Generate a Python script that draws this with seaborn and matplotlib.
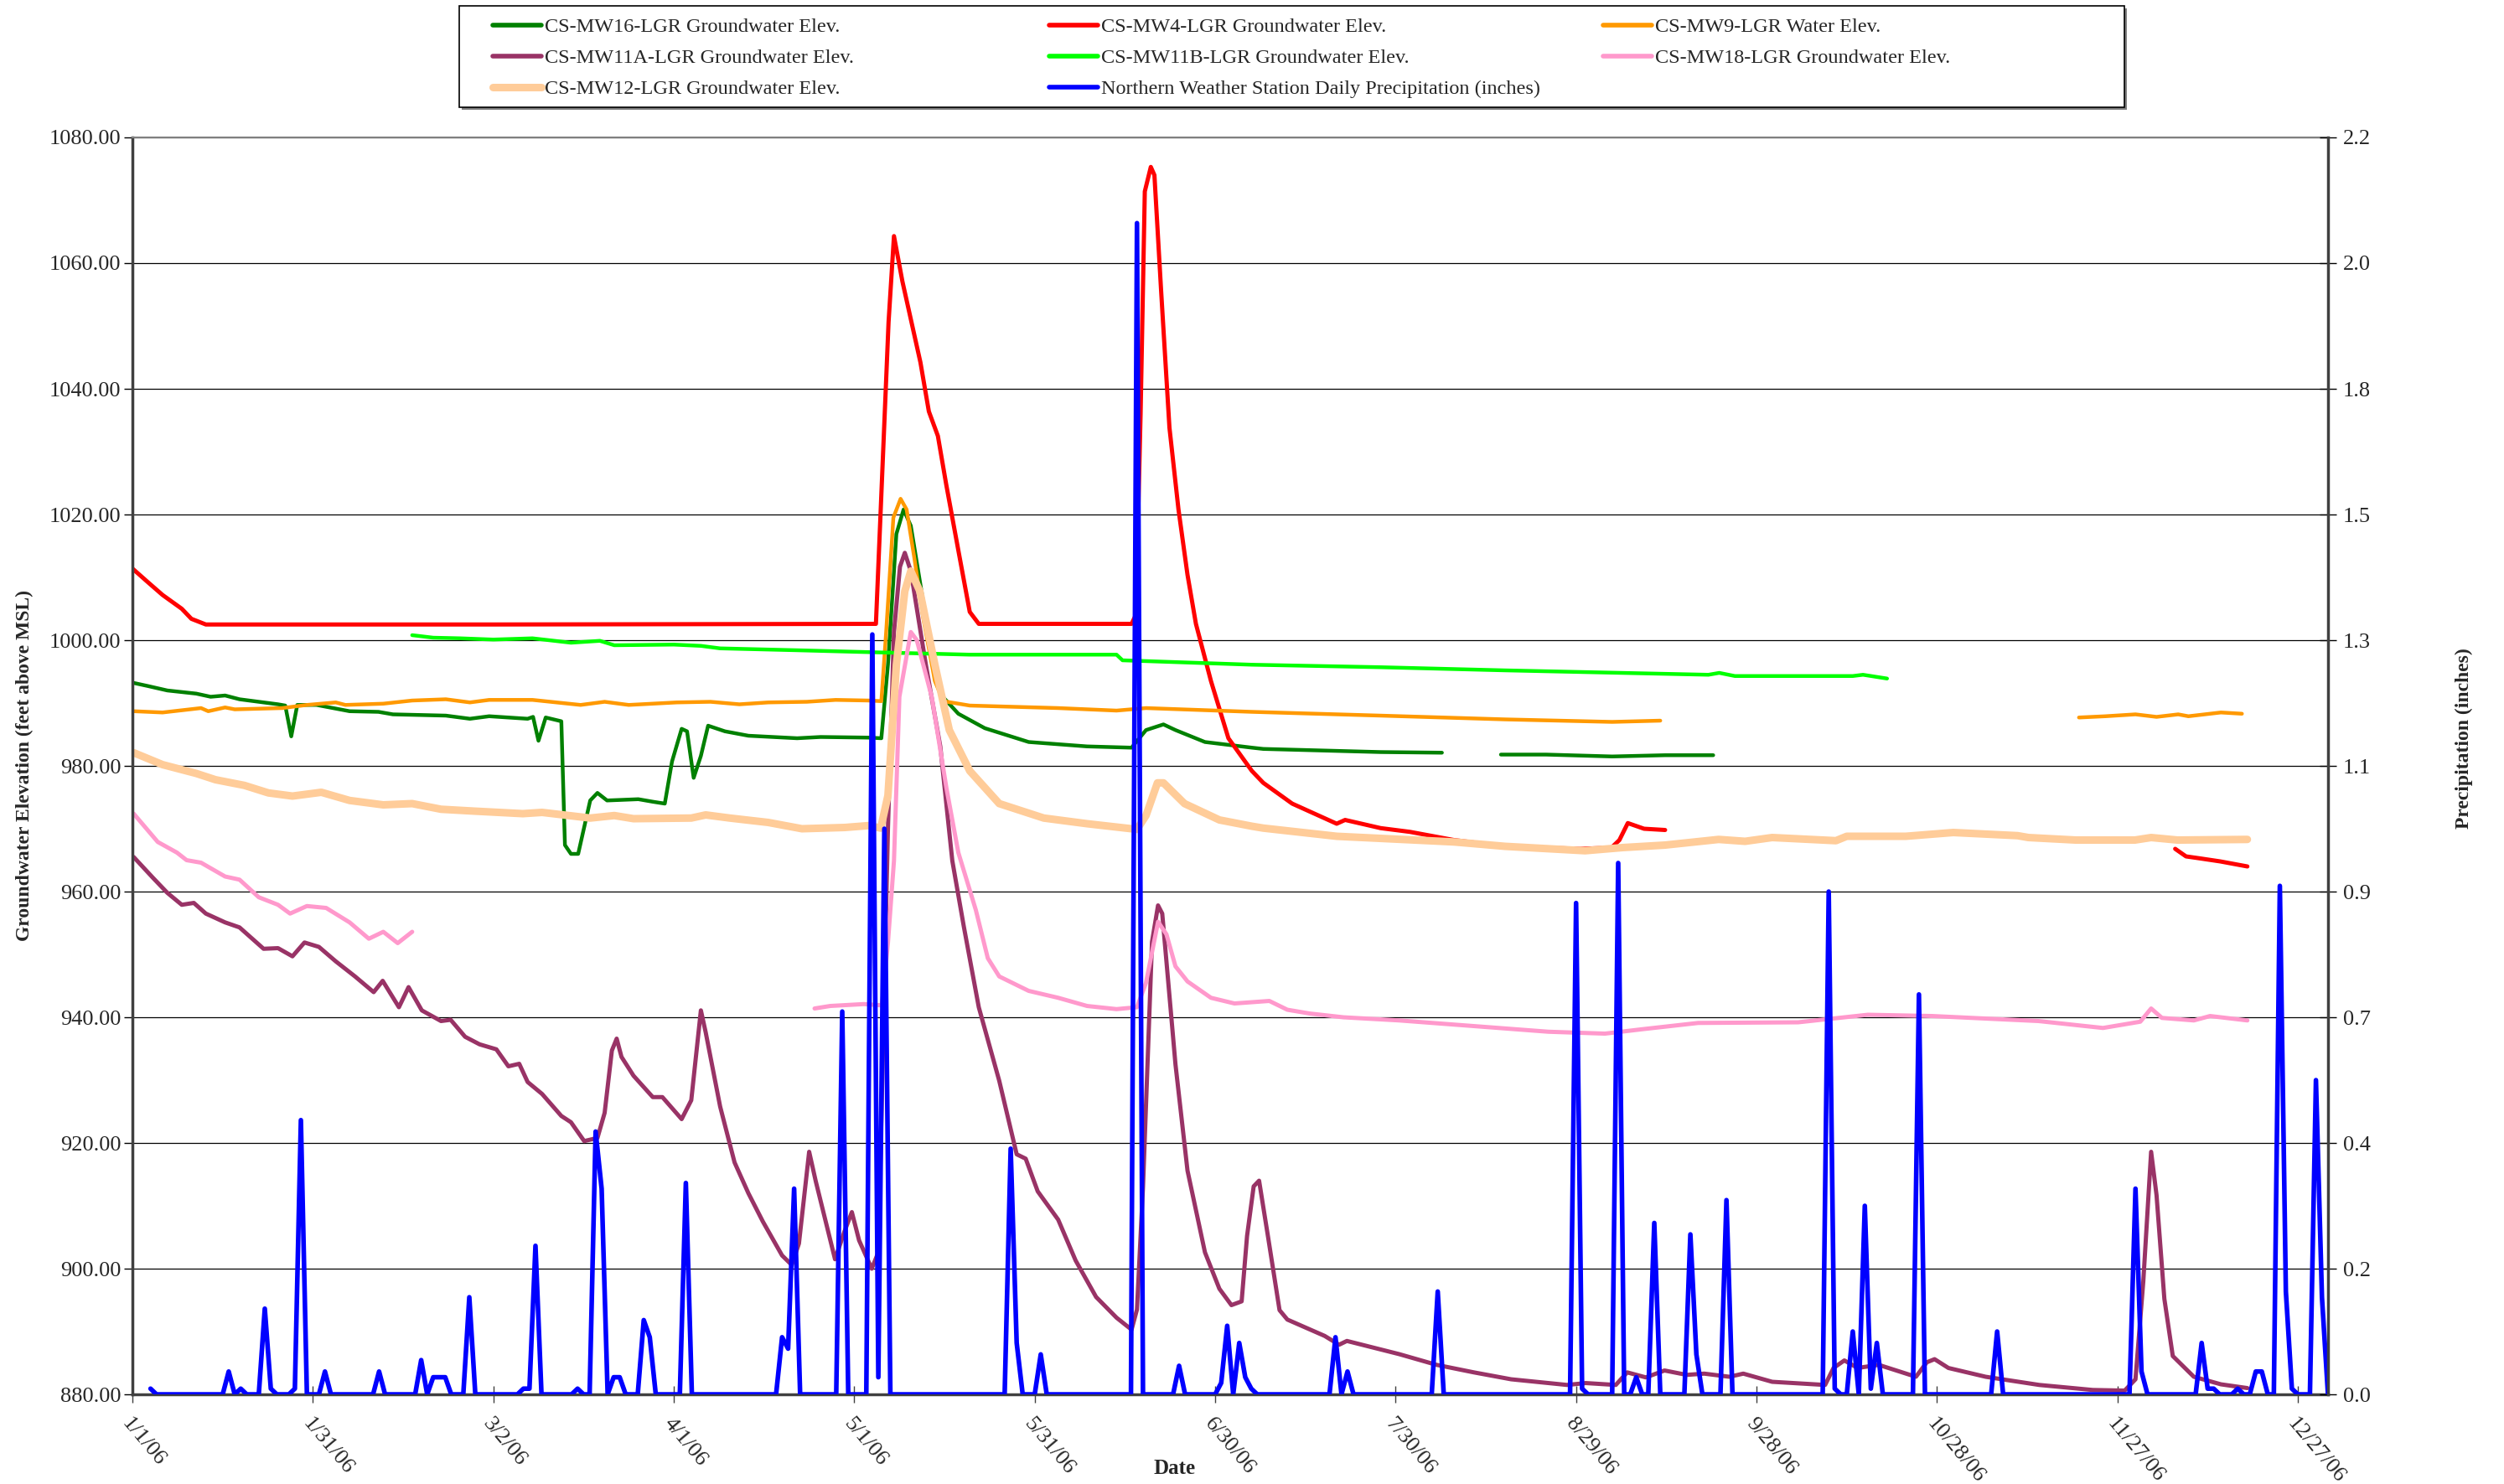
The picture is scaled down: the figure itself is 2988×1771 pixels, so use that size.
import numpy as np
import pandas as pd
import matplotlib
matplotlib.use("Agg")
import matplotlib.pyplot as plt
import matplotlib.ticker as mticker
import matplotlib.transforms as mtransforms
from matplotlib.lines import Line2D
from matplotlib.patches import Rectangle
import seaborn as sns

start = pd.Timestamp("2006-01-01")

# days are counted from 1/1/06, nan marks a gap in the record
mw16_day = [0.2, 2.6, 5.8, 10.6, 13, 15.4, 17.8, 24.2, 25.4, 26.4,
            27.4, 30.6, 36.1, 40.9, 43.3, 52.1, 56.1, 59.3, 65.7, 66.6,
            67.5, 68.7, 71.3, 71.9, 72.9, 74.1, 76.1, 77.3, 78.9, 84.1,
            86.5, 88.5, 89.7, 91.3, 92.2, 93.3, 94.5, 95.7, 98.5, 102.4,
            110.5, 114.4, 122.4, 124.5, 125.6, 127, 128.2, 129.4, 131.4, 133.4,
            134.8, 137.3, 141.7, 149, 158.7, 166.1, 168.5, 171.4, 173.4, 178.3,
            186.1, 188, 207.5, 217.7, np.nan,
            227.5, 235, 246, 254.8, 262.8]
mw16_val = [993.2, 992.7, 992.0, 991.5, 991.0, 991.2, 990.6, 989.8, 989.6, 984.7,
            989.7, 989.7, 988.7, 988.6, 988.2, 988.0, 987.5, 987.9, 987.5, 987.8,
            984.0, 987.7, 987.1, 967.4, 966.0, 966.0, 974.5, 975.7, 974.5, 974.7,
            974.3, 974.0, 980.7, 985.9, 985.5, 978.1, 981.6, 986.4, 985.5, 984.8,
            984.4, 984.6, 984.5, 984.4, 996.1, 1016.9, 1020.8, 1018.2, 1006.5, 996.1,
            990.9, 988.3, 986.0, 983.8, 983.1, 982.9, 985.7, 986.6, 985.7, 983.8,
            982.9, 982.7, 982.2, 982.1, np.nan,
            981.8, 981.8, 981.5, 981.7, 981.7]

mw4_day = [0, 2.6, 5, 8.2, 9.8, 12.2, 60, 123.6, 124.8, 125.7,
           126.6, 128, 131, 132.4, 133.9, 135.3, 137.3, 139.2, 140.7, 166.1,
           166.8, 167.6, 168.3, 169.3, 169.9, 171, 172.4, 173.9, 175.4, 176.8,
           179.3, 182.2, 186.1, 188, 192.8, 200.2, 201.6, 207.5, 212.4, 219.7,
           228.2, 240.7, 245.9, 247.2, 248.6, 251.3, 254.8, np.nan,
           339.6, 341.4, 343.6, 347.1, 351.6]
mw4_val = [1011.4, 1009.2, 1007.2, 1005.0, 1003.4, 1002.5, 1002.5, 1002.6, 1030.0, 1050.6,
           1064.3, 1057.1, 1044.2, 1036.4, 1032.5, 1024.7, 1014.3, 1004.5, 1002.6, 1002.6,
           1004.0, 1036.0, 1071.4, 1075.3, 1074.0, 1055.8, 1033.8, 1020.8, 1010.4, 1002.6,
           993.5, 984.4, 979.2, 977.3, 974.0, 970.8, 971.4, 970.1, 969.5, 968.2,
           967.2, 966.8, 967.0, 968.2, 970.9, 970.0, 969.8, np.nan,
           966.8, 965.6, 965.3, 964.8, 964.0]

mw9_day = [0.2, 5, 11.4, 12.6, 15.4, 17, 24.9, 29, 33.8, 35.4,
           41.7, 46.5, 52.1, 56.1, 59.3, 66.5, 74.5, 78.5, 82.5, 90.5,
           96.1, 100.9, 105.7, 112.1, 116.9, 122.4, 124.5, 125.3, 126.5, 127.7,
           128.7, 130, 131.4, 133.4, 134.8, 139.2, 153.9, 163.6, 168.5, 186.1,
           207.5, 228.2, 246, 254, np.nan,
           323.6, 328, 333, 336.5, 340.1, 341.8, 347.2, 350.7]
mw9_val = [988.7, 988.5, 989.2, 988.7, 989.3, 989.0, 989.2, 989.7, 990.1, 989.7,
           989.9, 990.4, 990.6, 990.1, 990.5, 990.5, 989.7, 990.2, 989.7, 990.1,
           990.2, 989.8, 990.1, 990.2, 990.5, 990.4, 990.3, 1001.3, 1019.5, 1022.5,
           1020.8, 1013.0, 1003.9, 993.5, 990.3, 989.6, 989.2, 988.8, 989.2, 988.6,
           988.0, 987.4, 987.0, 987.2, np.nan,
           987.7, 987.9, 988.2, 987.8, 988.2, 987.9, 988.5, 988.3]

mw11a_day = [0.2, 3.4, 5.8, 8.2, 10.2, 12.2, 15.4, 17.8, 21.8, 24.2,
             26.6, 28.6, 31, 33.8, 37, 40.1, 41.6, 44.3, 45.9, 48.1,
             51.3, 52.9, 55.3, 57.7, 60.5, 62.5, 64.3, 65.7, 68.1, 71.3,
             72.9, 75.1, 77.3, 78.5, 79.7, 80.5, 81.3, 83.3, 86.5, 88.1,
             91.3, 92.9, 94.5, 95.3, 97.7, 100.1, 102.4, 104.8, 108, 109.6,
             110.8, 112.5, 113.6, 115, 116.8, 118.4, 119.6, 120.8, 122.9, 124,
             124.8, 125.6, 126.6, 127.6, 128.4, 129.4, 131.9, 134.3, 136.3, 138.2,
             140.7, 144.1, 147, 148.5, 150.5, 153.9, 156.8, 160.2, 163.6, 166.1,
             167, 168, 169.5, 170.5, 171.2, 173.4, 175.4, 178.3, 180.7, 182.7,
             184.4, 185.3, 186.4, 187.3, 188.8, 190.7, 192, 198.2, 200.6, 201.9,
             210.6, 216.8, 223, 229.2, 238.5, 241.6, 246.6, 248.5, 251.6, 254.7,
             258.4, 261.3, 265.5, 267.8, 272.6, 281.4, 282.8, 284.6, 286.8, 290.3,
             296.5, 298.3, 299.6, 301.9, 308.1, 317, 325.9, 331.2, 333, 334.3,
             335.6, 336.5, 337.8, 339.2, 342.7, 347.2, 351.6]
mw11a_val = [965.5, 962.2, 959.8, 957.9, 958.2, 956.5, 955.1, 954.3, 950.9, 951.0,
             949.7, 951.9, 951.2, 948.9, 946.5, 944.0, 945.8, 941.6, 944.8, 941.1,
             939.4, 939.6, 936.9, 935.7, 934.9, 932.2, 932.6, 929.7, 927.8, 924.3,
             923.3, 920.3, 920.8, 924.8, 934.7, 936.6, 933.7, 930.7, 927.3, 927.3,
             923.8, 926.8, 941.1, 937.6, 925.8, 916.9, 912.0, 907.5, 902.1, 900.6,
             904.0, 918.6, 913.9, 908.5, 901.5, 906.0, 909.0, 904.5, 900.0, 902.6,
             936.4, 970.1, 1001.3, 1011.7, 1013.9, 1011.0, 996.1, 983.1, 964.9, 954.5,
             941.6, 929.9, 918.2, 917.5, 912.3, 907.8, 901.3, 895.5, 892.2, 890.3,
             893.5, 913.0, 952.0, 957.8, 956.5, 932.5, 915.6, 902.6, 896.8, 894.2,
             894.8, 905.2, 913.1, 914.0, 905.0, 893.4, 891.9, 889.3, 887.9, 888.5,
             886.4, 884.7, 883.5, 882.4, 881.5, 881.8, 881.5, 883.5, 882.7, 883.8,
             883.1, 883.3, 882.8, 883.3, 882.0, 881.5, 884.2, 885.4, 884.2, 884.7,
             882.8, 885.1, 885.6, 884.2, 882.8, 881.5, 880.7, 880.6, 882.4, 898.0,
             918.6, 911.7, 895.2, 886.1, 882.8, 881.6, 881.0]

mw11b_day = [46.5, 50, 54.5, 60, 66.5, 72.9, 77.7, 80.1, 90, 94.5,
             97.7, 110.5, 122.4, 139.2, 163.6, 164.6, 186.1, 207.5, 228.2, 262,
             263.8, 266.4, 286, 287.7, 291.7]
mw11b_val = [1000.8, 1000.4, 1000.3, 1000.1, 1000.3, 999.6, 999.9, 999.2, 999.3, 999.1,
             998.7, 998.4, 998.1, 997.7, 997.7, 996.8, 996.1, 995.7, 995.2, 994.5,
             994.8, 994.3, 994.3, 994.5, 993.9]

mw18_day = [0.2, 4.2, 7.4, 9, 11.4, 15.4, 17.8, 21, 24.2, 26.2,
            29, 32.2, 36.1, 39.3, 41.7, 44.1, 46.5, np.nan,
            113.4, 116, 121.6, 124.6, 125.6, 126.6, 127.5, 129.4, 130.4, 132.9,
            135.3, 137.3, 140.2, 142.2, 144.1, 149, 153.9, 158.7, 163.6, 167,
            168.5, 170.5, 171.9, 173.4, 175.4, 179.3, 183.2, 189, 192, 195.7,
            201.3, 210.6, 223, 235.4, 244.8, 251, 260.3, 276.9, 288.5, 299.2,
            316.9, 327.6, 333.8, 335.6, 337.4, 342.7, 345.4, 351.6]
mw18_val = [972.4, 967.9, 966.2, 965.0, 964.6, 962.4, 961.9, 959.1, 957.9, 956.5,
            957.7, 957.4, 955.1, 952.5, 953.6, 951.8, 953.6, np.nan,
            941.4, 941.8, 942.1, 941.9, 951.9, 964.9, 991.0, 1001.3, 1000.0, 990.9,
            976.6, 966.2, 957.1, 949.4, 946.5, 944.2, 943.1, 941.8, 941.3, 941.6,
            945.5, 955.2, 953.2, 948.1, 945.7, 943.1, 942.2, 942.6, 941.2, 940.6,
            940.0, 939.5, 938.6, 937.7, 937.4, 938.1, 939.1, 939.2, 940.4, 940.2,
            939.4, 938.3, 939.3, 941.4, 939.9, 939.5, 940.2, 939.5]

mw12_day = [0.2, 5, 10.6, 13.8, 18.6, 22.6, 26.6, 31.4, 36.1, 41.7,
            46.5, 51.3, 56.9, 64.9, 68.1, 76.1, 80.1, 83.3, 92.9, 95.3,
            99.3, 105.7, 111.3, 118.4, 122.4, 124.4, 125.6, 127, 128.4, 129.4,
            130.9, 133.4, 135.8, 139.2, 144.1, 151.5, 158.7, 167, 168.5, 170.4,
            171.4, 174.9, 180.7, 186.1, 188, 200.2, 219.7, 228.2, 241.5, 247.7,
            254.8, 263.7, 268.1, 272.6, 283.2, 285, 294.8, 302.7, 313.4, 315.2,
            323.1, 332.9, 335.6, 340, 351.6]
mw12_val = [982.1, 980.2, 978.8, 977.8, 976.9, 975.7, 975.2, 975.8, 974.5, 973.8,
            974.0, 973.1, 972.8, 972.4, 972.6, 971.7, 972.1, 971.6, 971.7, 972.2,
            971.7, 971.0, 970.0, 970.2, 970.5, 970.1, 975.3, 996.1, 1007.8, 1011.0,
            1007.8, 996.1, 985.7, 979.2, 974.0, 971.7, 970.8, 969.9, 972.1, 977.3,
            977.3, 974.0, 971.4, 970.4, 970.1, 968.8, 967.9, 967.2, 966.5, 967.0,
            967.4, 968.3, 968.0, 968.6, 968.1, 968.8, 968.8, 969.4, 968.9, 968.6,
            968.2, 968.2, 968.6, 968.2, 968.3]

# daily precipitation, record runs 1/4/06 - 1/1/07; days not listed had none
rain_day = [3, 16, 18, 22, 23, 27, 28, 32, 41, 48, 50, 51, 52, 56, 65, 66, 67,
            74, 77, 78, 80, 81, 85, 86, 92, 108, 109, 110, 118, 123, 124, 125,
            146, 147, 151, 167, 174, 181, 182, 184, 185, 186, 200, 202, 217,
            240, 241, 247, 250, 253, 259, 260, 265, 282, 283, 286, 288, 289,
            290, 297, 310, 333, 334, 344, 345, 346, 350, 353, 354, 357, 358,
            359, 363, 364]
rain_in = [0.01, 0.04, 0.01, 0.15, 0.01, 0.01, 0.48, 0.04, 0.04, 0.06, 0.03, 0.03, 0.03,
           0.17, 0.01, 0.01, 0.26, 0.01, 0.46, 0.36, 0.03, 0.03, 0.13, 0.10, 0.37,
           0.10, 0.08, 0.36, 0.67, 1.33, 0.03, 0.99, 0.43, 0.09, 0.07, 2.05, 0.05,
           0.02, 0.12, 0.09, 0.03, 0.01, 0.10, 0.04, 0.18, 0.86, 0.01, 0.93, 0.03,
           0.30, 0.28, 0.07, 0.34, 0.88, 0.01, 0.11, 0.33, 0.01, 0.09, 0.70, 0.11,
           0.36, 0.04, 0.09, 0.01, 0.01, 0.01, 0.04, 0.04, 0.89, 0.18, 0.01, 0.55,
           0.17]

tick_labels = ["1/1/06", "1/31/06", "3/2/06", "4/1/06", "5/1/06", "5/31/06",
               "6/30/06", "7/30/06", "8/29/06", "9/28/06", "10/28/06",
               "11/27/06", "12/27/06"]

sns.set_theme(style="white")
plt.rcParams["font.family"] = ["Liberation Serif", "DejaVu Serif"]


def to_dates(days):
    return start + pd.to_timedelta(np.asarray(days, dtype=float), unit="D")


def draw(ax, days, vals, color, lw):
    days = np.asarray(days, dtype=float)
    vals = np.asarray(vals, dtype=float)
    cuts = np.where(np.isnan(vals))[0]
    for idx in np.split(np.arange(len(vals)), cuts):
        idx = idx[~np.isnan(vals[idx])]
        if len(idx) == 0:
            continue
        sns.lineplot(x=to_dates(days[idx]), y=vals[idx], ax=ax, color=color,
                     linewidth=lw, estimator=None, sort=False, legend=False)


series = [
    ("CS-MW16-LGR Groundwater Elev.", mw16_day, mw16_val, "#008000", 3.2),
    ("CS-MW4-LGR Groundwater Elev.", mw4_day, mw4_val, "#FF0000", 3.6),
    ("CS-MW9-LGR Water Elev.", mw9_day, mw9_val, "#FF9900", 3.2),
    ("CS-MW11A-LGR Groundwater Elev.", mw11a_day, mw11a_val, "#993366", 3.6),
    ("CS-MW11B-LGR Groundwater Elev.", mw11b_day, mw11b_val, "#00FF00", 3.2),
    ("CS-MW18-LGR Groundwater Elev.", mw18_day, mw18_val, "#FF99CC", 3.6),
    ("CS-MW12-LGR Groundwater Elev.", mw12_day, mw12_val, "#FFCC99", 6.5),
]
precip_label = "Northern Weather Station Daily Precipitation (inches)"

fig = plt.figure(figsize=(29.88, 17.71), dpi=100)
ax = fig.add_axes([0.0529, 0.0604, 0.8768, 0.8470])

for name, d, v, c, lw in series:
    draw(ax, d, v, c, lw)

ax.set_xlim(start, start + pd.Timedelta(days=365))
ax.set_ylim(880, 1080)
ax.set_yticks(np.arange(880, 1081, 20))
ax.yaxis.set_major_formatter(mticker.FormatStrFormatter("%.2f"))
ax.set_xticks(to_dates(np.arange(0, 361, 30)))
ax.set_xticklabels(tick_labels, rotation=-50, ha="left", va="top",
                   rotation_mode="anchor")
shift = mtransforms.ScaledTranslation(10 / 72, 0, fig.dpi_scale_trans)
for lab in ax.get_xticklabels():
    lab.set_transform(lab.get_transform() + shift)
ax.yaxis.grid(True, color="black", linewidth=0.9)
ax.xaxis.grid(False)
ax.set_xlabel("")
ax.set_ylabel("")
ax.tick_params(axis="y", left=True, direction="out", length=7, width=1,
               color="black", pad=3, labelsize=19)
ax.tick_params(axis="x", bottom=True, direction="inout", length=14, width=1,
               color="#404040", pad=10, labelsize=19)
for s in ["left", "bottom"]:
    ax.spines[s].set_color("#404040")
    ax.spines[s].set_linewidth(2.5)
ax.spines["top"].set_color("#808080")
ax.spines["top"].set_linewidth(1.5)
ax.spines["right"].set_visible(False)

# precipitation on the secondary axis
ax2 = ax.twinx()
rain = pd.Series(0.0, index=pd.date_range("2006-01-04", "2007-01-01"))
rain[to_dates(rain_day)] = rain_in
sns.lineplot(x=rain.index, y=rain.values, ax=ax2, color="#0000FF",
             linewidth=4.0, estimator=None, legend=False)
ax2.set_xlim(start, start + pd.Timedelta(days=365))
ax2.set_ylim(0, 2.2)
ax2.set_yticks(np.linspace(0, 2.2, 11))
ax2.yaxis.set_major_formatter(mticker.FormatStrFormatter("%.1f"))
ax2.grid(False)
ax2.set_ylabel("")
ax2.tick_params(axis="y", right=True, direction="inout", length=14, width=1,
                color="black", pad=6, labelsize=19)
for s in ["left", "top", "bottom"]:
    ax2.spines[s].set_visible(False)
ax2.spines["right"].set_color("#404040")
ax2.spines["right"].set_linewidth(2.5)

fig.text(0.0097, 0.484, "Groundwater Elevation (feet above MSL)", rotation=90,
         ha="center", va="center", fontsize=17, fontweight="bold")
fig.text(0.984, 0.5026, "Precipitation (inches)", rotation=90,
         ha="center", va="center", fontsize=17, fontweight="bold")
fig.text(0.469, 0.0102, "Date", ha="center", va="center", fontsize=18,
         fontweight="bold")

# legend box with a small shadow, entries laid out row by row
W, H = 2988, 1771
fig.patches.append(Rectangle((551 / W, 1 - 131 / H), 1987 / W, 121 / H,
                             transform=fig.transFigure, facecolor="#808080",
                             edgecolor="none", zorder=0))
fig.patches.append(Rectangle((548 / W, 1 - 128 / H), 1987 / W, 121 / H,
                             transform=fig.transFigure, facecolor="white",
                             edgecolor="black", linewidth=1.2, zorder=1))

handles = [Line2D([], [], color=c, linewidth=max(lw, 4.0)) for _, _, _, c, lw in series]
handles.append(Line2D([], [], color="#0000FF", linewidth=4.0))
labels = [s[0] for s in series] + [precip_label]
columns = [[0, 3, 6], [1, 4, 7], [2, 5]]
col_x = [588 / W, 1252 / W, 1913 / W]
for cx, col in zip(col_x, columns):
    fig.legend([handles[i] for i in col], [labels[i] for i in col],
               loc="upper left", bbox_to_anchor=(cx, 1 - 21 / H),
               frameon=False, borderpad=0, borderaxespad=0,
               handlelength=2.4, handletextpad=0.15, labelspacing=0.62,
               fontsize=17.5)

fig.savefig("out.png", dpi=100)
